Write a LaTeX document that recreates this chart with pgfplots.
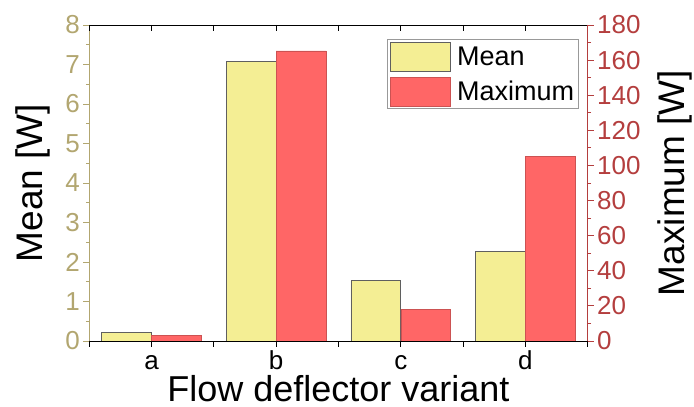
\documentclass[border=0pt]{standalone}
\usepackage{pgfplots}
\pgfplotsset{compat=1.18}
\usepackage{fontspec}
\setmainfont{Liberation Sans}
\definecolor{olivec}{RGB}{178,166,112}
\definecolor{redc}{RGB}{180,62,62}
\definecolor{meanfill}{RGB}{244,238,148}
\definecolor{maxfill}{RGB}{255,102,102}
\definecolor{edgec}{RGB}{95,95,95}
\begin{document}
\begin{tikzpicture}
\pgfplotsset{
  common/.style={
    at={(89.3pt,66pt)}, anchor=south west, scale only axis,
    width=498.4pt, height=316pt,
    xmin=-0.5, xmax=3.5,
    xtick={-0.5,0,0.5,1,1.5,2,2.5,3,3.5},
    major tick length=6pt, minor tick length=3.5pt,
    tick align=outside,
    /pgf/number format/assume math mode=true,
    ticklabel style={font=\fontsize{26}{30}\selectfont},
    label style={font=\fontsize{37}{42}\selectfont},
    axis line style={line width=0.9pt},
    every tick/.style={line width=0.9pt},
  },
  mylegimg/.style={legend image code/.code={\draw[##1] (0pt,-14.5pt) rectangle (60pt,14.5pt);}},
}
\begin{axis}[common,
  ymin=0, ymax=8, ytick={0,1,...,8}, minor y tick num=1,
  axis y line*=left, axis x line*=bottom,
  xticklabels={,a,,b,,c,,d,},
  xticklabel style={anchor=base, yshift=-23pt},
  y axis line style={draw=olivec},
  ytick style={draw=olivec},
  yticklabel style={text=olivec},
  xlabel={Flow deflector variant},
  xlabel style={at={(axis description cs:0.5,-0.192)}, anchor=base, inner sep=0pt, font=\fontsize{36}{40}\selectfont},
  ylabel={Mean [W]},
  ylabel style={at={(axis description cs:-0.113,0.5)}, anchor=center},
]
\addplot[ybar, bar width=0.4, bar shift=-0.2, fill=meanfill, draw=edgec, line width=0.8pt]
  coordinates {(0,0.21) (1,7.07) (2,1.53) (3,2.26)};
\end{axis}
\begin{axis}[common,
  ymin=0, ymax=180, ytick={0,20,...,180}, minor y tick num=1,
  axis y line*=right, axis x line*=top,
  xticklabels={},
  xtick style={yshift=-6pt},
  y axis line style={draw=redc},
  ytick style={draw=redc},
  yticklabel style={text=redc},
  ylabel={Maximum [W]},
  ylabel style={at={(axis description cs:1.175,0.5)}, anchor=center},
  legend style={at={(axis description cs:0.9826,0.956)}, anchor=north east,
    draw=gray!80, line width=0.8pt, inner sep=2.5pt, row sep=5pt, column sep=4pt,
    nodes={inner sep=2pt},
    font=\fontsize{27}{30}\selectfont},
  legend cell align=left,
]
\addlegendimage{mylegimg, fill=meanfill, draw=edgec, line width=0.8pt}
\addlegendentry{Mean}
\addplot[ybar, bar width=0.4, bar shift=0.2, fill=maxfill, draw=maxfill!80!black, line width=0.6pt, mylegimg]
  coordinates {(0,3.4) (1,165.2) (2,17.8) (3,105)};
\addlegendentry{Maximum}
\end{axis}
\pgfresetboundingbox
\path (0,0) rectangle (694pt,407pt);
\end{tikzpicture}
\end{document}
